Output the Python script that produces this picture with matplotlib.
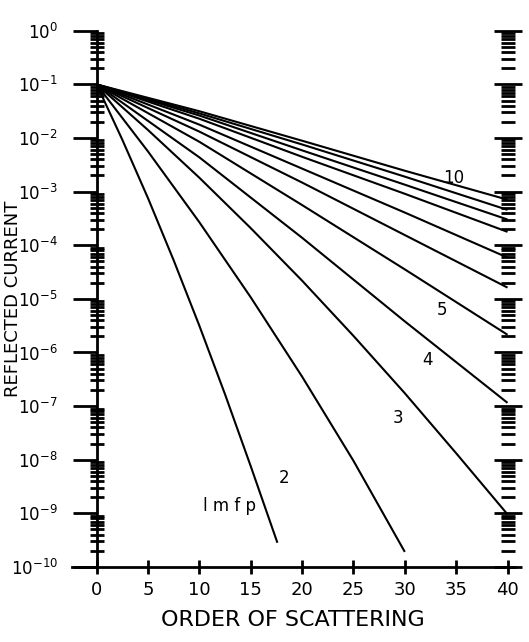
import matplotlib.pyplot as plt
import numpy as np
from matplotlib.ticker import LogLocator, NullFormatter, FixedLocator

# order of scattering where each curve was read
order = [0, 10, 20, 30, 40]
order5 = [0, 5, 10, 15, 20, 25, 30, 35, 40]

# log10(reflected current), one list per curve
mfp1_x = [0, 2.5, 5, 7.5, 10, 12.5, 15, 17.6]
mfp1_logy = [-1, -2.03, -3.12, -4.28, -5.5, -6.78, -8.12, -9.55]
mfp2_x = [0, 5, 10, 15, 20, 25, 30]
mfp2_logy = [-1, -2.25, -3.57, -4.97, -6.45, -8.02, -9.72]
mfp3_logy = [-1, -1.85, -2.74, -3.68, -4.66, -5.69, -6.76, -7.88, -9.02]
mfp4_logy = [-1, -2.36, -3.86, -5.42, -6.94]
mfp5_logy = [-1, -2.07, -3.25, -4.45, -5.67]
mfp6_logy = [-1, -1.88, -2.83, -3.81, -4.79]
mfp7_logy = [-1, -1.75, -2.57, -3.39, -4.23]
mfp8_logy = [-1, -1.64, -2.35, -3.04, -3.75]
mfp9_logy = [-1, -1.58, -2.23, -2.87, -3.52]
mfp10_logy = [-1, -1.54, -2.12, -2.72, -3.34]
mfp11_logy = [-1, -1.50, -2.05, -2.61, -3.15]

curve_labels = ['10', '5', '4', '3', '2', 'l m f p']
label_x = [34.8, 33.6, 32.2, 29.3, 18.2, 12.9]
label_logy = [-2.74, -5.2, -6.14, -7.23, -8.35, -8.87]

x_ticks = [0, 5, 10, 15, 20, 25, 30, 35, 40]

fig = plt.figure(figsize=(5.29, 6.42), dpi=100)
ax = fig.add_axes([0.136, 0.117, 0.837, 0.835])

curves = [(mfp1_x, mfp1_logy), (mfp2_x, mfp2_logy), (order5, mfp3_logy)]
for logy in [mfp4_logy, mfp5_logy, mfp6_logy, mfp7_logy,
             mfp8_logy, mfp9_logy, mfp10_logy, mfp11_logy]:
    curves.append((order, logy))

for xs, ly in curves:
    ax.plot(xs, 10.0 ** np.array(ly), color='black', lw=1.5, solid_capstyle='butt')

for txt, lx, ly in zip(curve_labels, label_x, label_logy):
    ax.text(lx, 10.0 ** ly, txt, fontsize=12, ha='center', va='center')

ax.set_yscale('log')
ax.set_xlim(-2.4, 40.7)
ax.set_ylim(1e-10, 1)

ax.spines['left'].set_position(('data', 0))
ax.spines['right'].set_visible(False)
ax.spines['top'].set_visible(False)
for s in ['left', 'bottom']:
    ax.spines[s].set_linewidth(2)

ax.yaxis.set_major_locator(LogLocator(base=10, numticks=30))
ax.yaxis.set_minor_locator(LogLocator(base=10, subs=np.arange(2, 10), numticks=30))
ax.yaxis.set_minor_formatter(NullFormatter())
ax.tick_params(axis='y', which='major', direction='out', length=17, width=2,
               labelsize=12, pad=11)
ax.tick_params(axis='y', which='minor', direction='inout', length=10, width=2)

ax.xaxis.set_major_locator(FixedLocator(x_ticks))
ax.tick_params(axis='x', which='major', direction='inout', length=10, width=2,
               labelsize=13, pad=5)

# second scale of ticks at order 40, no axis line
ax2 = ax.twinx()
ax2.set_yscale('log')
ax2.set_ylim(1e-10, 1)
ax2.spines['right'].set_position(('data', 40))
ax2.spines['right'].set_color('none')
for s in ['left', 'top', 'bottom']:
    ax2.spines[s].set_visible(False)
ax2.yaxis.set_major_locator(LogLocator(base=10, numticks=30))
ax2.yaxis.set_minor_locator(LogLocator(base=10, subs=np.arange(2, 10), numticks=30))
ax2.yaxis.set_major_formatter(NullFormatter())
ax2.yaxis.set_minor_formatter(NullFormatter())
ax2.tick_params(axis='y', which='major', direction='inout', length=20, width=2)
ax2.tick_params(axis='y', which='minor', direction='inout', length=10, width=2)

ax.set_xlabel('ORDER OF SCATTERING', fontsize=16, labelpad=8)
ax.set_ylabel('REFLECTED CURRENT', fontsize=13)
ax.yaxis.set_label_coords(-0.113, 0.5)

fig.savefig('out.png', dpi=100)
